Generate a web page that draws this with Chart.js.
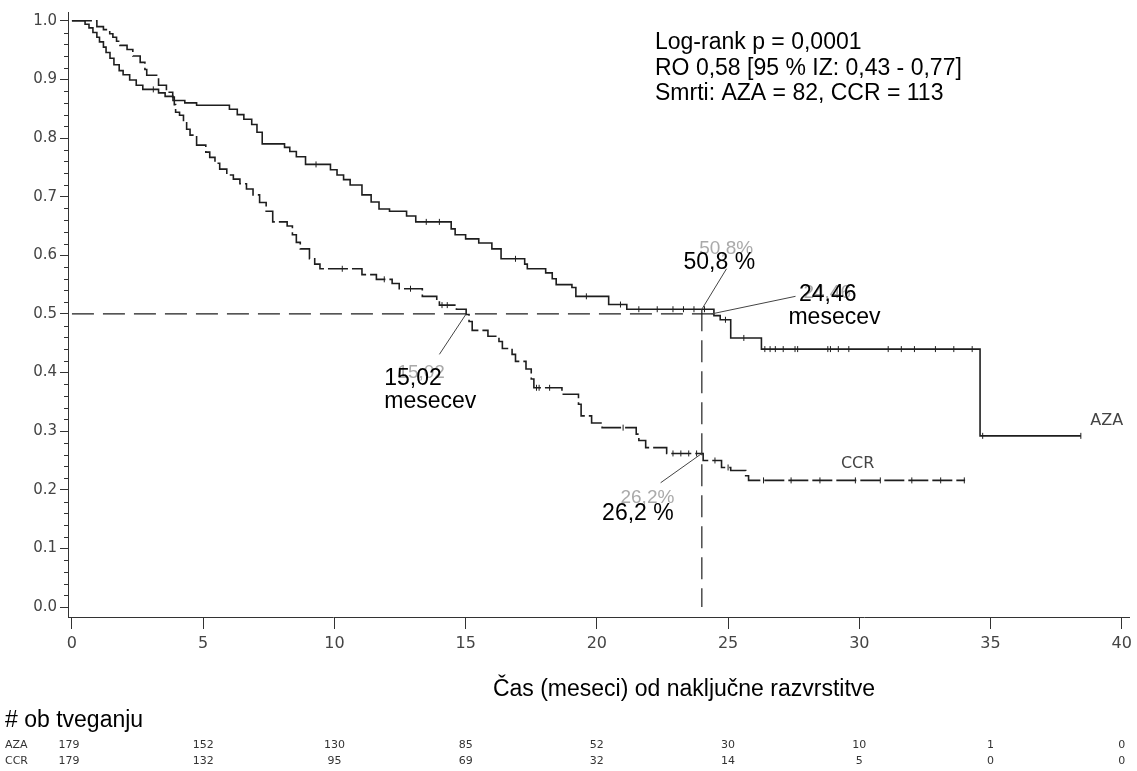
<!DOCTYPE html>
<html>
<head>
<meta charset="utf-8">
<script src="https://cdn.jsdelivr.net/npm/chart.js@4.4.1/dist/chart.umd.min.js"></script>
<style>
  body { margin: 0; background: #fff; }
  canvas { display: block; }
</style>
</head>
<body>
<canvas id="grafico" width="1137" height="771"></canvas>
<script>
// krivulja AZA (cas v mesecih, delez prezivetja)
const azaCas = [0, 0.5, 0.65, 0.8, 0.95, 1.05, 1.2, 1.3, 1.45, 1.6, 1.8, 1.95, 2.2, 2.45, 2.7, 3.3, 3.55, 3.85, 4.3, 4.75,
  6.0, 6.3, 6.55, 6.85, 7.05, 7.25, 8.1, 8.3, 8.55, 8.9, 9.85, 10.1, 10.35, 10.6, 11.05, 11.4, 11.7, 12.1, 12.75, 13.1,
  14.45, 14.6, 15.0, 15.5, 16.0, 16.35, 17.25, 17.35, 18.05, 18.3, 18.45, 19.05, 19.2, 20.45, 21.14, 24.46, 24.7, 25.1,
  26.27, 34.6, 38.44];
const azaPrez = [1.0, 0.994, 0.988, 0.98, 0.972, 0.964, 0.955, 0.946, 0.936, 0.925, 0.915, 0.908, 0.899, 0.89, 0.883, 0.877, 0.871, 0.864, 0.86, 0.856,
  0.849, 0.84, 0.832, 0.823, 0.81, 0.79, 0.784, 0.777, 0.768, 0.755, 0.746, 0.737, 0.729, 0.72, 0.703, 0.691, 0.679, 0.675, 0.667, 0.657,
  0.645, 0.635, 0.628, 0.621, 0.611, 0.594, 0.585, 0.577, 0.57, 0.56, 0.55, 0.545, 0.53, 0.516, 0.508, 0.497, 0.49, 0.459,
  0.44, 0.292, 0.292];

// krivulja CCR
const ccrCas = [0, 0.95, 1.2, 1.44, 1.56, 1.7, 1.83, 2.1, 2.32, 2.6, 2.78, 2.85, 3.3, 3.6, 3.84, 3.9, 3.95, 4.1, 4.25, 4.37,
  4.5, 4.75, 5.1, 5.25, 5.45, 5.63, 5.9, 6.15, 6.4, 6.65, 6.9, 7.15, 7.4, 7.65, 8.2, 8.4, 8.55, 8.7, 9.05, 9.25,
  9.45, 11.05, 11.6, 12.2, 12.47, 13.35, 13.9, 14.0, 14.65, 15.02, 15.13, 15.25, 15.85, 16.27, 16.4, 16.77, 16.9, 17.3, 17.5, 17.6,
  18.67, 19.3, 19.4, 19.8, 20.2, 21.5, 21.6, 21.86, 22.66, 24.05, 24.75, 25.1, 25.67, 25.78, 34.03];
const ccrPrez = [1.0, 0.99, 0.985, 0.978, 0.972, 0.965, 0.958, 0.951, 0.94, 0.929, 0.917, 0.907, 0.89, 0.878, 0.87, 0.857, 0.844, 0.839, 0.828, 0.815,
  0.805, 0.788, 0.776, 0.767, 0.757, 0.747, 0.737, 0.73, 0.722, 0.713, 0.703, 0.69, 0.675, 0.657, 0.65, 0.635, 0.622, 0.611, 0.594, 0.585,
  0.577, 0.567, 0.559, 0.552, 0.543, 0.53, 0.522, 0.515, 0.508, 0.499, 0.487, 0.472, 0.462, 0.453, 0.441, 0.431, 0.419, 0.406, 0.389, 0.374,
  0.363, 0.346, 0.326, 0.314, 0.306, 0.295, 0.284, 0.272, 0.262, 0.25, 0.238, 0.233, 0.224, 0.216, 0.216];

// cenzurirani bolniki
const azaCenzura = [3.1, 9.3, 13.5, 14.0, 16.9, 19.6, 20.9, 21.6, 22.3, 22.9, 23.3, 23.7, 24.1, 24.9, 25.6, 26.4, 26.6, 26.8,
  27.1, 27.55, 27.65, 28.8, 28.9, 29.2, 29.6, 31.1, 31.6, 32.1, 32.9, 33.6, 34.3, 34.7, 38.44];
const ccrCenzura = [10.3, 11.9, 12.9, 14.1, 14.3, 17.7, 17.8, 18.2, 21.0, 22.9, 23.2, 23.5, 23.8, 24.5, 25.0, 26.35, 27.4,
  28.5, 29.85, 30.8, 32.0, 33.1, 34.0];

const medianaAza = 24.46;
const medianaCcr = 15.02;
const mesec24 = 24;
const azaPri24 = 0.508;
const ccrPri24 = 0.262;

const xOznake = [0, 5, 10, 15, 20, 25, 30, 35, 40];
const yOznake = [0, 0.1, 0.2, 0.3, 0.4, 0.5, 0.6, 0.7, 0.8, 0.9, 1.0];

// stevilo ob tveganju
const tveganjeCas = [0, 5, 10, 15, 20, 25, 30, 35, 40];
const tveganjeAza = [179, 152, 130, 85, 52, 30, 10, 1, 0];
const tveganjeCcr = [179, 132, 95, 69, 32, 14, 5, 0, 0];

const besedilo = ['Log-rank p = 0,0001', 'RO 0,58 [95 % IZ: 0,43 - 0,77]', 'Smrti: AZA = 82, CCR = 113'];

function tocke(cas, prez) {
  return cas.map((t, i) => ({ x: t, y: prez[i] }));
}

function vrednostOb(cas, prez, t) {
  let v = prez[0];
  for (let i = 0; i < cas.length; i++) {
    if (cas[i] <= t) v = prez[i];
  }
  return v;
}

const ARIAL = '"Liberation Sans", Arial, sans-serif';
const DEJAVU = '"DejaVu Sans", Verdana, sans-serif';

// oznake z vodili (koordinate v enotah osi)
const opombe = [
  { od: [medianaCcr, 0.5], do: [14.0, 0.431], senca: ['15,02', 12.4, 0.40],
    vrstice: [['15,02', 11.9, 0.389], ['mesecev', 11.9, 0.351]] },
  { od: [mesec24, azaPri24], do: [24.94, 0.577], senca: ['50,8%', 23.9, 0.611],
    vrstice: [['50,8 %', 23.3, 0.587]] },
  { od: [24.37, 0.5], do: [27.57, 0.53], senca: ['24,46', 27.87, 0.536],
    vrstice: [['24,46', 27.7, 0.533], ['mesecev', 27.3, 0.494]] },
  { od: [mesec24, ccrPri24], do: [22.43, 0.212], senca: ['26,2%', 20.9, 0.187],
    vrstice: [['26,2 %', 20.2, 0.16]] }
];

const dibujos = {
  id: 'dibujos',
  afterDatasetsDraw(chart) {
    const ctx = chart.ctx;
    const x = chart.scales.x;
    const y = chart.scales.y;
    const px = v => x.getPixelForValue(v);
    const py = v => y.getPixelForValue(v);
    ctx.save();

    // male oznake na osi y
    ctx.strokeStyle = '#333';
    ctx.lineWidth = 1;
    for (let k = 0; k <= 50; k++) {
      if (k % 5 === 0) continue;
      const yy = Math.round(py(k * 0.02)) + 0.5;
      ctx.beginPath();
      ctx.moveTo(x.left - 4, yy);
      ctx.lineTo(x.left, yy);
      ctx.stroke();
    }

    // vodila
    ctx.strokeStyle = '#444';
    ctx.lineWidth = 1;
    opombe.forEach(o => {
      ctx.beginPath();
      ctx.moveTo(px(o.od[0]), py(o.od[1]));
      ctx.lineTo(px(o.do[0]), py(o.do[1]));
      ctx.stroke();
    });

    ctx.textBaseline = 'middle';
    ctx.textAlign = 'left';
    ctx.font = '19px ' + ARIAL;
    ctx.fillStyle = '#aaa';
    opombe.forEach(o => ctx.fillText(o.senca[0], px(o.senca[1]), py(o.senca[2])));

    ctx.font = '23px ' + ARIAL;
    ctx.fillStyle = '#000';
    opombe.forEach(o => o.vrstice.forEach(v => ctx.fillText(v[0], px(v[1]), py(v[2]))));

    // imeni krivulj
    ctx.font = '16px ' + DEJAVU;
    ctx.fillStyle = '#444';
    ctx.fillText('AZA', px(38.8), py(0.318));
    ctx.fillText('CCR', px(29.3), py(0.245));

    // besedilo zgoraj desno
    ctx.font = '23px ' + ARIAL;
    ctx.fillStyle = '#000';
    besedilo.forEach((b, i) => ctx.fillText(b, 655, 43 + i * 25.5));

    // naslov osi x
    ctx.textAlign = 'center';
    ctx.fillText('Čas (meseci) od naključne razvrstitve', 684, 690);

    // tabela ob tveganju
    ctx.textAlign = 'left';
    ctx.fillText('# ob tveganju', 5, 721);
    ctx.font = '11px ' + DEJAVU;
    ctx.fillStyle = '#333';
    ctx.fillText('AZA', 5, 745);
    ctx.fillText('CCR', 5, 761);
    ctx.textAlign = 'center';
    tveganjeCas.forEach((t, i) => {
      const xx = i === 0 ? px(t) - 3 : px(t);
      ctx.fillText(String(tveganjeAza[i]), xx, 745);
      ctx.fillText(String(tveganjeCcr[i]), xx, 761);
    });
    ctx.restore();
  }
};

const crta = '#1e1e1e';

new Chart(document.getElementById('grafico'), {
  type: 'scatter',
  data: {
    datasets: [
      {
        data: tocke(azaCas, azaPrez), showLine: true, stepped: true,
        borderColor: crta, borderWidth: 1.6, pointRadius: 0
      },
      {
        data: tocke(ccrCas, ccrPrez), showLine: true, stepped: true,
        borderColor: crta, borderWidth: 1.6, borderDash: [20, 4], pointRadius: 0
      },
      {
        data: azaCenzura.map(t => ({ x: t, y: vrednostOb(azaCas, azaPrez, t) })),
        pointStyle: 'line', rotation: 90, pointRadius: 3, borderColor: crta, borderWidth: 1
      },
      {
        data: ccrCenzura.map(t => ({ x: t, y: vrednostOb(ccrCas, ccrPrez, t) })),
        pointStyle: 'line', rotation: 90, pointRadius: 3, borderColor: crta, borderWidth: 1
      },
      {
        data: [{ x: 0, y: 0.5 }, { x: medianaAza, y: 0.5 }], showLine: true,
        borderColor: crta, borderWidth: 1.2, borderDash: [22, 9], pointRadius: 0
      },
      {
        data: [{ x: mesec24, y: azaPri24 }, { x: mesec24, y: 0 }], showLine: true,
        borderColor: crta, borderWidth: 1.2, borderDash: [22, 9], pointRadius: 0
      }
    ]
  },
  options: {
    responsive: false,
    animation: false,
    devicePixelRatio: 1,
    layout: { padding: { top: 9, right: 5, left: 0, bottom: 0 } },
    plugins: { legend: { display: false }, tooltip: { enabled: false } },
    scales: {
      x: {
        type: 'linear', min: -0.15, max: 40.3,
        afterBuildTicks: s => { s.ticks = xOznake.map(v => ({ value: v })); },
        afterFit: s => { s.height = 154; },
        grid: { drawOnChartArea: false, tickLength: 12, color: '#333' },
        border: { color: '#333', width: 1 },
        ticks: { color: '#444', font: { family: DEJAVU, size: 16 }, padding: 5, maxRotation: 0 }
      },
      y: {
        type: 'linear', min: -0.017, max: 1.015,
        afterBuildTicks: s => { s.ticks = yOznake.map(v => ({ value: v })); },
        afterFit: s => { s.width = 68; },
        grid: { drawOnChartArea: false, tickLength: 8, color: '#333' },
        border: { color: '#333', width: 1 },
        ticks: { color: '#444', font: { family: DEJAVU, size: 15 }, padding: 3, callback: v => v.toFixed(1) }
      }
    }
  },
  plugins: [dibujos]
});
</script>
</body>
</html>
